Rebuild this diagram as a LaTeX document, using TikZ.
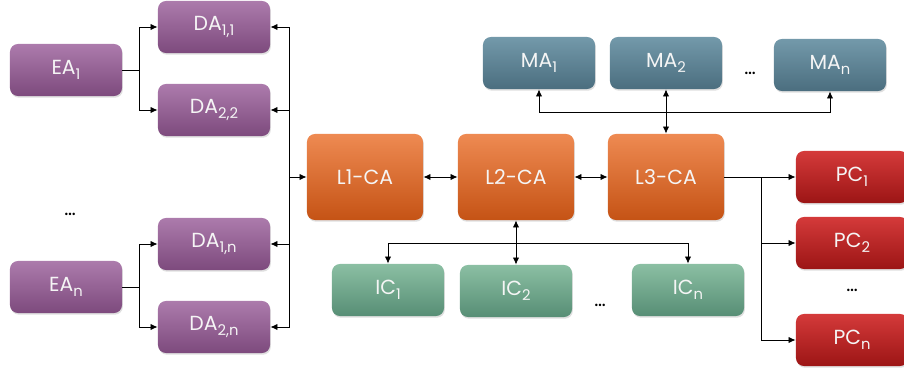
\documentclass[tikz,border=0pt]{standalone}
\usepackage{fontspec}
\setmainfont{Poppins}
\usetikzlibrary{shadows,arrows.meta}

\newcommand{\lowidx}[1]{\raisebox{-0.45ex}{\fontsize{10.5}{10.5}\selectfont #1}}

\definecolor{eatop}{HTML}{AC7BAC}
\definecolor{eabot}{HTML}{7D4A7D}
\definecolor{catop}{HTML}{EE8A52}
\definecolor{cabot}{HTML}{C55315}
\definecolor{matop}{HTML}{7399AA}
\definecolor{mabot}{HTML}{4B6E7F}
\definecolor{ictop}{HTML}{8BBFA3}
\definecolor{icbot}{HTML}{578E75}
\definecolor{pctop}{HTML}{D43A3A}
\definecolor{pcbot}{HTML}{9C1515}

\tikzset{
  agent/.style={rounded corners=0.2cm, minimum width=2.8cm, minimum height=1.3cm,
    text=white!92!gray, font=\fontsize{14.5}{16}\selectfont,
    drop shadow={shadow xshift=0.6pt, shadow yshift=-1.2pt, opacity=0.25}},
  eabox/.style={agent, top color=eatop, bottom color=eabot},
  cabox/.style={agent, top color=catop, bottom color=cabot, minimum width=2.9cm, minimum height=2.15cm},
  mabox/.style={agent, top color=matop, bottom color=mabot},
  icbox/.style={agent, top color=ictop, bottom color=icbot},
  pcbox/.style={agent, top color=pctop, bottom color=pcbot},
  more/.style={font=\fontsize{14}{14}\selectfont, text=black}
}

\begin{document}
\begin{tikzpicture}[x=0.025cm, y=-0.025cm, >={Latex[length=5pt,width=4.5pt]}, semithick]
  \useasboundingbox (0,0) rectangle (904,369);

  % left side
  \node[eabox] (EA1) at (66,70) {EA\lowidx{1}};
  \node[eabox] (EAn) at (66,287) {EA\lowidx{n}};
  \node[more] (dotsE) at (70,214) {\dots};
  \node[eabox] (DA11) at (214,27) {DA\lowidx{1,1}};
  \node[eabox] (DA22) at (214,110) {DA\lowidx{2,2}};
  \node[eabox] (DA1n) at (214,244) {DA\lowidx{1,n}};
  \node[eabox] (DA2n) at (214,327) {DA\lowidx{2,n}};

  % central agents
  \node[cabox] (L1) at (365,177) {L1-CA};
  \node[cabox] (L2) at (516,177) {L2-CA};
  \node[cabox] (L3) at (666,177) {L3-CA};

  % top row
  \node[mabox] (MA1) at (539,63) {MA\lowidx{1}};
  \node[mabox] (MA2) at (666,63) {MA\lowidx{2}};
  \node[mabox] (MAn) at (830,65) {MA\lowidx{n}};
  \node[more] (dotsM) at (750,73) {\dots};

  % bottom row
  \node[icbox] (IC1) at (388,290) {IC\lowidx{1}};
  \node[icbox] (IC2) at (516,291) {IC\lowidx{2}};
  \node[icbox] (ICn) at (688,290) {IC\lowidx{n}};
  \node[more] (dotsI) at (600,305) {\dots};

  % right column
  \node[pcbox] (PC1) at (852,177) {PC\lowidx{1}};
  \node[pcbox] (PC2) at (852,243) {PC\lowidx{2}};
  \node[pcbox] (PCn) at (852,340) {PC\lowidx{n}};
  \node[more] (dotsP) at (852,290) {\dots};

  % junctions
  \coordinate (j1) at (139,70);
  \coordinate (jn) at (139,287);
  \coordinate (bus) at (289,177);
  \coordinate (mbus) at (666,112);
  \coordinate (ibus) at (516,243);
  \coordinate (pbus) at (761,177);

  \draw (EA1) -- (j1);
  \draw[->] (j1) |- (DA11);
  \draw[->] (j1) |- (DA22);
  \draw (EAn) -- (jn);
  \draw[->] (jn) |- (DA1n);
  \draw[->] (jn) |- (DA2n);

  \draw[->] (bus) |- (DA11);
  \draw[->] (bus) |- (DA22);
  \draw[->] (bus) |- (DA1n);
  \draw[->] (bus) |- (DA2n);
  \draw[->] (bus) -- (L1);

  \draw[<->] (L1) -- (L2);
  \draw[<->] (L2) -- (L3);

  \draw[<->] (L3) -- (MA2);
  \draw[->] (mbus) -| (MA1);
  \draw[->] (mbus) -| (MAn);

  \draw[<->] (L2) -- (IC2);
  \draw[->] (ibus) -| (IC1);
  \draw[->] (ibus) -| (ICn);

  \draw[->] (L3) -- (PC1);
  \draw[->] (pbus) |- (PC2);
  \draw[->] (pbus) |- (PCn);
\end{tikzpicture}
\end{document}
